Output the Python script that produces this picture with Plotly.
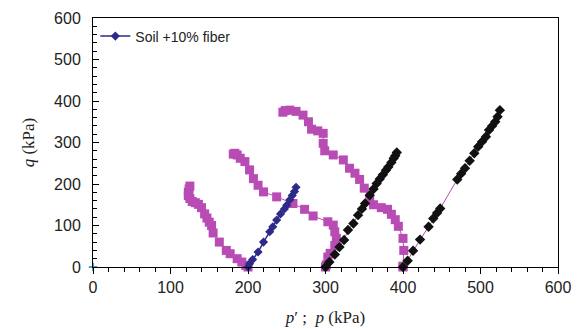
import plotly.graph_objects as go

# Effective stress paths (p', q) - magenta squares
eff1_p = [200, 197, 192, 186, 177, 172, 163, 155, 153, 150, 147, 144, 140, 136, 132, 128, 125, 123, 123, 124, 125]
eff1_q = [0, 4, 12, 20, 32, 40, 60, 82, 100, 108, 118, 128, 143, 151, 155, 158, 165, 172, 180, 188, 195]

eff2_p = [300, 301, 303, 306, 312, 314, 312, 310, 303, 284, 273, 258, 237, 220, 213, 207, 202, 196, 190, 186, 183, 181]
eff2_q = [0, 5, 24, 33, 52, 69, 85, 101, 109, 123, 139, 153, 169, 181, 197, 213, 234, 254, 262, 270, 274, 272]

eff3_p = [400, 400, 401, 400, 394, 390, 385, 380, 372, 362, 357, 350, 344, 338, 331, 323, 310, 299, 297, 297, 290, 282, 278, 271, 262, 254, 248, 245]
eff3_q = [0, 2, 40, 69, 98, 114, 127, 139, 143, 150, 163, 190, 211, 226, 238, 258, 270, 280, 298, 322, 328, 332, 350, 366, 375, 378, 377, 373]

# Soil +10% fiber (blue diamonds)
blue_p = [200, 202, 206, 213, 220, 228, 232, 237, 242, 247, 250, 254, 257, 260, 262]
blue_q = [0, 8, 18, 36, 60, 85, 97, 113, 128, 140, 149, 162, 172, 182, 192]

# Total stress paths (p, q) - black diamonds
tot1_p = [300, 305, 312, 318, 324, 329, 336, 342, 347, 351, 357, 362, 366, 370, 374, 378, 381, 385, 388, 390, 392]
tot1_q = [0, 12, 30, 48, 65, 89, 105, 125, 140, 153, 173, 188, 201, 212, 222, 233, 241, 252, 262, 268, 276]

tot2_p = [400, 406, 413, 422, 433, 439, 444, 448, 470, 475, 480, 486, 492, 497, 502, 507, 511, 515, 519, 522, 525]
tot2_q = [0, 15, 39, 66, 97, 117, 130, 141, 211, 225, 238, 256, 274, 290, 302, 314, 330, 340, 350, 362, 378]

origin_p = [0]
origin_q = [0]

MAG = "#B84BB4"
BLUE = "#2E2A8A"
BLACK = "#111111"

fig = go.Figure()

for p, q in [(eff1_p, eff1_q), (eff2_p, eff2_q), (eff3_p, eff3_q)]:
    fig.add_trace(go.Scatter(x=p, y=q, mode="lines+markers", showlegend=False,
                             line=dict(color=MAG, width=1),
                             marker=dict(symbol="square", size=9, color=MAG),
                             cliponaxis=False))

for p, q in [(tot1_p, tot1_q), (tot2_p, tot2_q)]:
    fig.add_trace(go.Scatter(x=p, y=q, mode="lines+markers", showlegend=False,
                             line=dict(color=MAG, width=1),
                             marker=dict(symbol="diamond", size=8, color=BLACK),
                             cliponaxis=False))

fig.add_trace(go.Scatter(x=blue_p, y=blue_q, mode="lines+markers", name="Soil +10% fiber",
                         line=dict(color=BLUE, width=1.5),
                         marker=dict(symbol="diamond", size=7, color=BLUE),
                         cliponaxis=False))

fig.add_trace(go.Scatter(x=origin_p, y=origin_q, mode="markers", showlegend=False,
                         marker=dict(symbol="cross-thin", size=6, line=dict(color="#2A7FA0", width=1.5)),
                         cliponaxis=False))

fig.update_layout(
    width=588, height=329,
    margin=dict(l=93, r=30, t=18, b=62),
    plot_bgcolor="white", paper_bgcolor="white",
    font=dict(family="Liberation Sans, Arial, sans-serif", size=14, color="#222"),
    showlegend=True,
    legend=dict(x=0.005, y=0.99, xanchor="left", yanchor="top", bgcolor="rgba(0,0,0,0)",
                font=dict(size=14), itemwidth=30),
)

fig.update_xaxes(range=[0, 600], dtick=100, tick0=0, automargin=False,
                 showgrid=False, zeroline=False,
                 showline=True, linecolor="black", linewidth=1, mirror=True,
                 ticks="outside", ticklen=6, tickcolor="black",
                 minor=dict(dtick=20, ticks="outside", ticklen=4, tickcolor="black"),
                 tickfont=dict(size=16),
                 title=dict(text="<i>p</i>′ ;  <i>p</i> (kPa)", font=dict(family="Liberation Serif, Times New Roman, serif", size=17), standoff=15))

fig.update_yaxes(range=[0, 600], dtick=100, tick0=0, automargin=False,
                 showgrid=False, zeroline=False,
                 showline=True, linecolor="black", linewidth=1, mirror=True,
                 ticks="inside", ticklen=6, tickcolor="black",
                 minor=dict(dtick=20, ticks="inside", ticklen=4, tickcolor="black"),
                 tickfont=dict(size=16), ticklabelstandoff=8,
                 title=dict(text="<i>q</i> (kPa)", font=dict(family="Liberation Serif, Times New Roman, serif", size=17), standoff=15))

fig.write_html("out.html")
